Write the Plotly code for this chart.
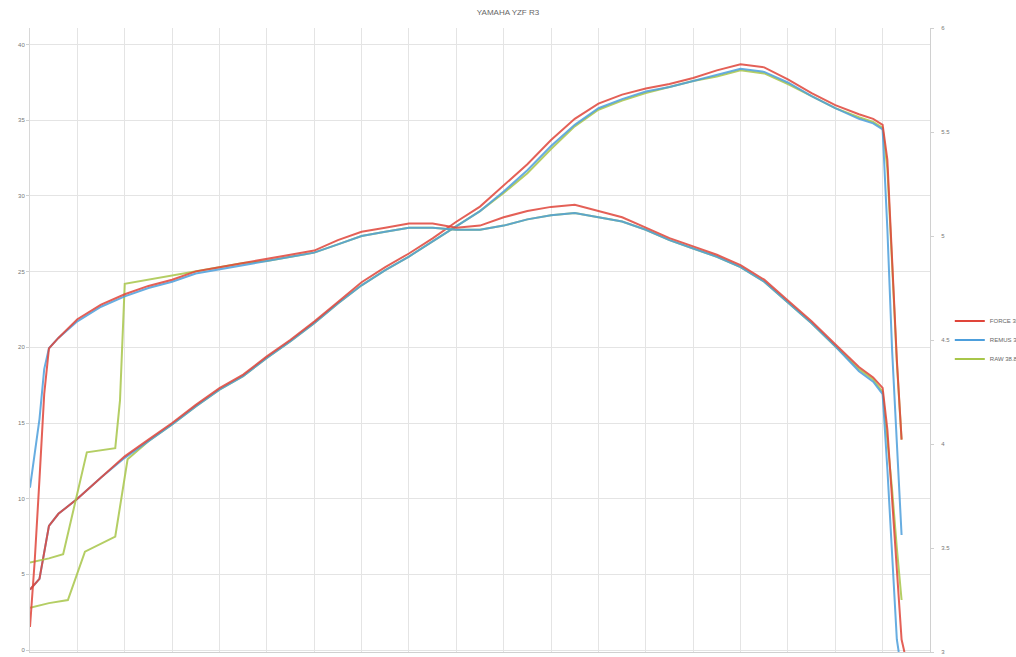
import plotly.graph_objects as go

title = "YAMAHA YZF R3"
names = ["FORCE 38.9", "REMUS 38.8", "RAW 38.8"]
colors = ["#e0453a", "#4d9fdc", "#a8c64a"]

# power (hp) - left axis
rpm_p = [2000, 2100, 2200, 2300, 2500, 2750, 3000, 3250, 3500, 3750, 4000, 4250, 4500,
         4750, 5000, 5250, 5500, 5750, 6000, 6250, 6500, 6750, 7000, 7250, 7500, 7750,
         8000, 8250, 8500, 8750, 9000, 9250, 9500, 9750, 10000, 10250, 10500, 10750,
         10900, 11000, 11050, 11100, 11150, 11200]
pow_red = [4.0, 4.7, 8.2, 9.0, 10.0, 11.4, 12.8, 13.9, 15.0, 16.2, 17.3, 18.2, 19.4,
           20.5, 21.7, 23.0, 24.3, 25.3, 26.2, 27.2, 28.3, 29.3, 30.7, 32.1, 33.7, 35.1,
           36.1, 36.7, 37.1, 37.4, 37.8, 38.3, 38.7, 38.5, 37.7, 36.8, 36.0, 35.4,
           35.1, 34.7, 32.4, 25.8, 19.2, 13.9]
pow_blue = [4.0, 4.7, 8.2, 9.0, 10.0, 11.4, 12.7, 13.8, 14.9, 16.1, 17.2, 18.1, 19.3,
            20.4, 21.6, 22.9, 24.1, 25.1, 26.0, 27.0, 28.0, 29.0, 30.3, 31.7, 33.3, 34.7,
            35.8, 36.4, 36.9, 37.2, 37.6, 38.0, 38.4, 38.2, 37.5, 36.6, 35.8, 35.1,
            34.8, 34.4, 27.8, 19.8, 13.2, 7.6]
rpm_pg = [2000, 2200, 2400, 2580, 2900, 3030, 3250, 3500, 3750, 4000, 4250, 4500,
          4750, 5000, 5250, 5500, 5750, 6000, 6250, 6500, 6750, 7000, 7250, 7500, 7750,
          8000, 8250, 8500, 8750, 9000, 9250, 9500, 9750, 10000, 10250, 10500, 10750,
          10900, 11000, 11050, 11100, 11150, 11200]
pow_green = [2.8, 3.1, 3.3, 6.5, 7.5, 12.6, 13.8, 14.9, 16.1, 17.2, 18.1, 19.3,
             20.4, 21.6, 22.9, 24.1, 25.1, 26.0, 27.0, 28.0, 29.0, 30.2, 31.5, 33.1, 34.6,
             35.7, 36.3, 36.8, 37.2, 37.6, 37.9, 38.3, 38.1, 37.4, 36.6, 35.8, 35.2,
             34.9, 34.5, 31.8, 25.5, 19.0, 13.9]

# torque (kgm) - right axis
rpm_t = [2000, 2050, 2100, 2150, 2200, 2300, 2500, 2750, 3000, 3250, 3500, 3750, 4000,
         4250, 4500, 4750, 5000, 5250, 5500, 5750, 6000, 6250, 6500, 6750, 7000, 7250,
         7500, 7750, 8000, 8250, 8500, 8750, 9000, 9250, 9500, 9750, 10000, 10250,
         10500, 10750, 10900, 11000, 11050, 11100, 11150, 11200, 11230]
tq_red = [3.12, 3.44, 3.83, 4.24, 4.46, 4.51, 4.60, 4.67, 4.72, 4.76, 4.79, 4.83, 4.85,
          4.87, 4.89, 4.91, 4.93, 4.98, 5.02, 5.04, 5.06, 5.06, 5.04, 5.05, 5.09, 5.12,
          5.14, 5.15, 5.12, 5.09, 5.04, 4.99, 4.95, 4.91, 4.86, 4.79, 4.69, 4.59,
          4.48, 4.37, 4.32, 4.27, 4.07, 3.73, 3.35, 3.06, 3.00]
rpm_tb = [2000, 2050, 2100, 2150, 2200, 2300, 2500, 2750, 3000, 3250, 3500, 3750, 4000,
          4250, 4500, 4750, 5000, 5250, 5500, 5750, 6000, 6250, 6500, 6750, 7000, 7250,
          7500, 7750, 8000, 8250, 8500, 8750, 9000, 9250, 9500, 9750, 10000, 10250,
          10500, 10750, 10900, 11000, 11050, 11100, 11150, 11170]
tq_blue = [3.79, 3.95, 4.12, 4.36, 4.46, 4.51, 4.59, 4.66, 4.71, 4.75, 4.78, 4.82, 4.84,
           4.86, 4.88, 4.90, 4.92, 4.96, 5.00, 5.02, 5.04, 5.04, 5.03, 5.03, 5.05, 5.08,
           5.10, 5.11, 5.09, 5.07, 5.03, 4.98, 4.94, 4.90, 4.85, 4.78, 4.68, 4.58,
           4.47, 4.35, 4.30, 4.24, 3.88, 3.44, 3.06, 3.00]
rpm_tg = [2000, 2200, 2350, 2600, 2900, 2950, 3000, 3250, 3500, 3750, 4000,
          4250, 4500, 4750, 5000, 5250, 5500, 5750, 6000, 6250, 6500, 6750, 7000, 7250,
          7500, 7750, 8000, 8250, 8500, 8750, 9000, 9250, 9500, 9750, 10000, 10250,
          10500, 10750, 10900, 11000, 11050, 11100, 11150, 11200]
tq_green = [3.43, 3.45, 3.47, 3.96, 3.98, 4.21, 4.77, 4.79, 4.81, 4.83, 4.85,
            4.87, 4.88, 4.90, 4.92, 4.96, 5.00, 5.02, 5.04, 5.04, 5.03, 5.03, 5.05, 5.08,
            5.10, 5.11, 5.09, 5.07, 5.03, 4.98, 4.94, 4.90, 4.85, 4.78, 4.68, 4.58,
            4.47, 4.36, 4.31, 4.25, 4.02, 3.78, 3.50, 3.25]

fig = go.Figure()

power = [(rpm_p, pow_red), (rpm_p, pow_blue), (rpm_pg, pow_green)]
torque = [(rpm_t, tq_red), (rpm_tb, tq_blue), (rpm_tg, tq_green)]

# draw green, blue, then red on top
for i in [2, 1, 0]:
    fig.add_trace(go.Scatter(
        x=power[i][0], y=power[i][1], mode="lines", name=names[i],
        line=dict(color=colors[i], width=2), opacity=0.85,
        legendgroup=names[i], showlegend=False
    ))
    fig.add_trace(go.Scatter(
        x=torque[i][0], y=torque[i][1], mode="lines", name=names[i],
        line=dict(color=colors[i], width=2), opacity=0.85,
        legendgroup=names[i], yaxis="y2", showlegend=False
    ))

# legend entries in original order
for i in range(3):
    fig.add_trace(go.Scatter(
        x=[None], y=[None], mode="lines", name=names[i],
        line=dict(color=colors[i], width=2), legendgroup=names[i]
    ))

fig.update_layout(
    template="plotly_white",
    width=1016,
    height=657,
    margin=dict(l=30, r=86, t=28, b=5, autoexpand=False),
    title=dict(text=title, x=0.5, xanchor="center", y=0.985, yanchor="top",
               font=dict(size=8, color="#666666", family="Liberation Sans")),
    font=dict(family="Liberation Sans", size=6, color="#777777"),
    showlegend=True,
    legend=dict(x=1.022, y=0.5, xanchor="left", yanchor="middle",
                font=dict(size=6, color="#666666"), tracegroupgap=0,
                itemwidth=30, bgcolor="rgba(0,0,0,0)"),
    xaxis=dict(range=[2000, 11500], dtick=500, showticklabels=False,
               showgrid=True, gridcolor="#e4e4e4", zeroline=False,
               showline=True, linecolor="#d0d0d0"),
    yaxis=dict(range=[-0.13, 41.1], dtick=5, showgrid=True, gridcolor="#e4e4e4",
               zeroline=False, showline=True, linecolor="#d8d8d8",
               ticks="outside", ticklen=3, tickcolor="#d0d0d0"),
    yaxis2=dict(range=[3, 6], dtick=0.5, overlaying="y", side="right",
                showgrid=False, zeroline=False, showline=True, linecolor="#d0d0d0",
                ticks="outside", ticklen=3, tickcolor="#d0d0d0", ticklabelstandoff=6)
)

fig.write_html("out.html", config={"displayModeBar": False},
               post_script="document.body.style.margin='0px';")
